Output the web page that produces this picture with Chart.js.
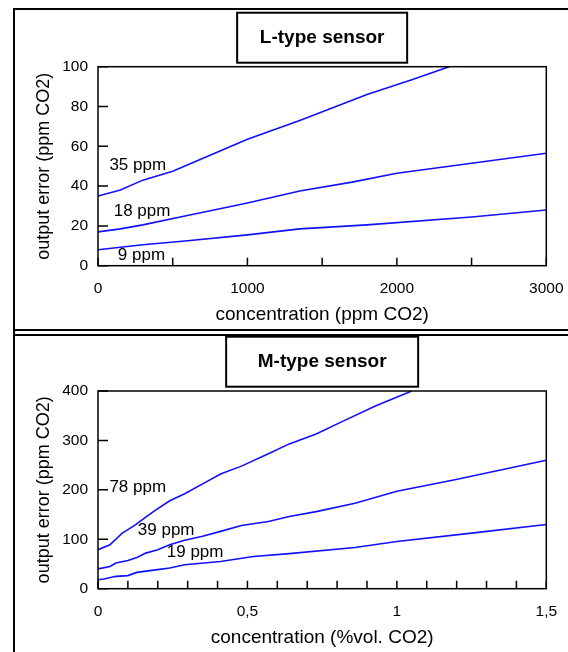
<!DOCTYPE html>
<html>
<head>
<meta charset="utf-8">
<script src="https://cdn.jsdelivr.net/npm/chart.js@4.4.0/dist/chart.umd.min.js"></script>
<style>
  body { margin: 0; background: #fff; }
  #page { position: relative; width: 568px; height: 652px; overflow: hidden; }
  canvas { position: absolute; left: 0; }
  .line { position: absolute; background: #000; }
</style>
</head>
<body>
<div id="page">
  <canvas id="lChart" width="568" height="330" style="top:0px"></canvas>
  <canvas id="mChart" width="568" height="318" style="top:334px"></canvas>
  <div class="line" style="left:13px;top:8px;width:2px;height:644px"></div>
  <div class="line" style="left:13px;top:8px;width:555px;height:2px"></div>
  <div class="line" style="left:13px;top:329px;width:555px;height:2px"></div>
  <div class="line" style="left:13px;top:334px;width:555px;height:2px"></div>
</div>
<script>
// L-type sensor (x: ppm CO2, y: output error ppm CO2)
const lX35 = [0, 150, 300, 500, 750, 1000, 1350, 1800, 2100, 2350];
const lY35 = [35, 38, 43, 47.5, 55.5, 63.5, 73, 86, 93.5, 100];
const lX18 = [0, 150, 300, 550, 1000, 1350, 1700, 2000, 2500, 3000];
const lY18 = [17, 18.5, 20.5, 24.5, 31.5, 37.5, 42, 46.5, 51.5, 56.5];
const lX9 = [0, 300, 600, 1000, 1350, 1800, 2500, 3000];
const lY9 = [8, 10.5, 12.5, 15.5, 18.5, 20.5, 24.5, 28];
const lLabels = ['35 ppm', '18 ppm', '9 ppm'];
const lLabelX = [266, 295, 291];
const lLabelY = [50.6, 27.1, 5.4];

// M-type sensor (x: %vol. CO2, y: output error ppm CO2)
const mX78 = [0, 0.04, 0.08, 0.12, 0.16, 0.19, 0.24, 0.29, 0.35, 0.41, 0.48, 0.57, 0.64, 0.73, 0.82, 0.93, 1.05];
const mY78 = [79, 89, 112, 127, 145, 158, 178, 192, 212, 232, 248, 273, 293, 313, 339, 370, 400];
const mX39 = [0, 0.04, 0.06, 0.1, 0.13, 0.16, 0.2, 0.24, 0.29, 0.35, 0.41, 0.48, 0.57, 0.64, 0.73, 0.86, 1.0, 1.19, 1.5];
const mY39 = [40, 45, 52, 57, 63, 72, 79, 89, 98, 106, 116, 128, 136, 146, 156, 173, 197, 220, 260];
const mX19 = [0, 0.02, 0.06, 0.1, 0.13, 0.18, 0.24, 0.29, 0.41, 0.52, 0.64, 0.86, 1.0, 1.25, 1.5];
const mY19 = [18, 19.5, 25, 26.5, 33, 37, 42, 48.5, 55, 65, 71, 83.5, 95.5, 112.5, 130];
const mLabels = ['78 ppm', '39 ppm', '19 ppm'];
const mLabelX = [0.133, 0.228, 0.325];
const mLabelY = [204.5, 117.4, 73.7];

const FONT = '"Liberation Sans", Arial, Helvetica, sans-serif';
Chart.defaults.font.family = FONT;
Chart.defaults.color = '#000';

function points(xs, ys) {
    return xs.map((x, i) => ({ x: x, y: ys[i] }));
}

function lineSet(xs, ys) {
    return {
        data: points(xs, ys),
        borderColor: '#1010ff',
        borderWidth: 1.6,
        pointRadius: 0,
        tension: 0,
        fill: false
    };
}

// inward tick marks, plot frame, title box and curve labels
const framePlugin = {
    id: 'frame',
    afterDraw(chart, args, opts) {
        const { ctx, chartArea: a, scales } = chart;
        ctx.save();
        ctx.strokeStyle = '#000';
        ctx.lineWidth = 1.5;
        ctx.beginPath();
        scales.x.ticks.forEach(t => {
            const px = scales.x.getPixelForValue(t.value);
            ctx.moveTo(px, a.bottom);
            ctx.lineTo(px, a.bottom - opts.xTick);
        });
        scales.y.ticks.forEach(t => {
            const py = scales.y.getPixelForValue(t.value);
            ctx.moveTo(a.left, py);
            ctx.lineTo(a.left + opts.yTick, py);
        });
        ctx.stroke();
        ctx.strokeRect(a.left, a.top, a.right - a.left, a.bottom - a.top);

        const b = opts.box;
        const cx = (a.left + a.right) / 2;
        ctx.lineWidth = 2;
        ctx.strokeRect(cx - b.w / 2, b.top, b.w, b.h);

        ctx.font = '17px ' + FONT;
        ctx.fillStyle = '#000';
        ctx.textAlign = 'center';
        ctx.textBaseline = 'middle';
        opts.labels.forEach((txt, i) => {
            ctx.fillText(txt, scales.x.getPixelForValue(opts.labelX[i]), scales.y.getPixelForValue(opts.labelY[i]));
        });
        ctx.restore();
    }
};

function makeChart(id, cfg) {
    return new Chart(document.getElementById(id), {
        type: 'line',
        data: { datasets: cfg.datasets },
        options: {
            responsive: false,
            animation: false,
            layout: { padding: { left: 0, right: 21.7, top: 0, bottom: 0 } },
            plugins: {
                legend: { display: false },
                tooltip: { enabled: false },
                title: {
                    display: true,
                    text: cfg.title,
                    fullSize: false,
                    color: '#000',
                    font: { size: 19, weight: 'bold' },
                    padding: cfg.titlePad
                },
                frame: {
                    xTick: 8,
                    yTick: 10,
                    box: cfg.box,
                    labels: cfg.labels,
                    labelX: cfg.labelX,
                    labelY: cfg.labelY
                }
            },
            scales: {
                x: {
                    type: 'linear',
                    min: cfg.xMin,
                    max: cfg.xMax,
                    grid: { display: false, drawTicks: false },
                    border: { display: false },
                    ticks: {
                        stepSize: cfg.xStep,
                        autoSkip: false,
                        maxRotation: 0,
                        padding: 14,
                        font: { size: 15.5 },
                        callback: cfg.xFormat
                    },
                    title: {
                        display: true,
                        text: cfg.xTitle,
                        font: { size: 19 },
                        padding: { top: 0, bottom: cfg.xTitleBottom }
                    },
                    afterFit(scale) {
                        scale.height = cfg.xHeight;
                        scale.paddingLeft = 0;
                        scale.paddingRight = 0;
                    }
                },
                y: {
                    min: 0,
                    max: cfg.yMax,
                    grid: { display: false, drawTicks: false },
                    border: { display: false },
                    ticks: {
                        stepSize: cfg.yStep,
                        padding: 10,
                        font: { size: 15.5 },
                        callback: v => String(v)
                    },
                    title: {
                        display: true,
                        text: 'output error (ppm CO2)',
                        font: { size: 18 },
                        padding: { top: 33, bottom: 0 }
                    },
                    afterFit(scale) { scale.width = 98; }
                }
            }
        },
        plugins: [framePlugin]
    });
}

makeChart('lChart', {
    title: 'L-type sensor',
    titlePad: { top: 26.3, bottom: 17.6 },
    box: { w: 170, h: 50, top: 12.7 },
    datasets: [lineSet(lX35, lY35), lineSet(lX18, lY18), lineSet(lX9, lY9)],
    labels: lLabels, labelX: lLabelX, labelY: lLabelY,
    xMin: 0, xMax: 3000, xStep: 500,
    xFormat: v => (v % 1000 === 0 ? String(v) : ''),
    xTitle: 'concentration (ppm CO2)',
    xTitleBottom: 4.3,
    xHeight: 330 - 265.7,
    yMax: 100, yStep: 20
});

makeChart('mChart', {
    title: 'M-type sensor',
    titlePad: { top: 16.3, bottom: 17.9 },
    box: { w: 192, h: 50, top: 2.7 },
    datasets: [lineSet(mX78, mY78), lineSet(mX39, mY39), lineSet(mX19, mY19)],
    labels: mLabels, labelX: mLabelX, labelY: mLabelY,
    xMin: 0, xMax: 1.5, xStep: 0.1,
    xFormat: v => {
        const k = Math.round(v * 10);
        return k % 5 === 0 ? String(k / 10).replace('.', ',') : '';
    },
    xTitle: 'concentration (%vol. CO2)',
    xTitleBottom: 2.9,
    xHeight: 318 - 254.7,
    yMax: 400, yStep: 100
});
</script>
</body>
</html>
